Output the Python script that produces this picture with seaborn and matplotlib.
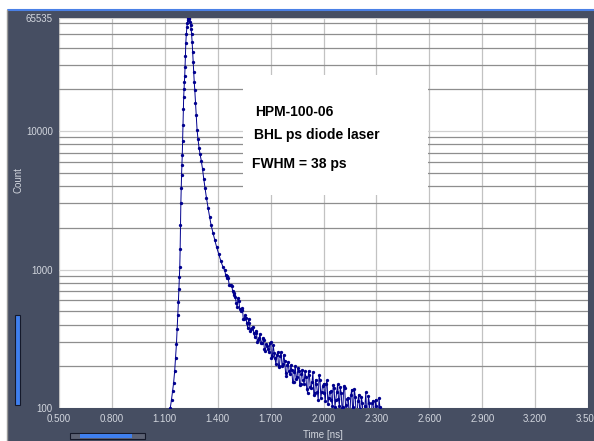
import matplotlib
matplotlib.use("Agg")
import matplotlib.pyplot as plt
from matplotlib.patches import Rectangle
from matplotlib.lines import Line2D
from matplotlib.ticker import LogLocator, NullFormatter
import seaborn as sns
import pandas as pd

# rise, peak and early decay of the IRF
rise_time = [1.120, 1.126, 1.132, 1.138, 1.144, 1.150, 1.156, 1.161, 1.166, 1.170,
             1.174, 1.177, 1.180, 1.183, 1.185, 1.187, 1.189, 1.191, 1.193, 1.195,
             1.197, 1.199, 1.201, 1.203, 1.205, 1.207, 1.209, 1.211, 1.213, 1.215,
             1.217, 1.219, 1.222, 1.225, 1.228, 1.231, 1.234, 1.237]
rise_count = [80, 90, 100, 115, 132, 152, 185, 230, 290, 370,
              470, 580, 720, 880, 1050, 1400, 2100, 3000, 3900, 4800,
              5700, 6700, 8500, 11000, 14500, 17500, 20000, 22500, 25000, 29000,
              35000, 43000, 50000, 56000, 60500, 63500, 65200, 65535]

decay_time = [1.240, 1.243, 1.246, 1.249, 1.252, 1.255, 1.258, 1.261, 1.264, 1.267,
              1.270, 1.274, 1.278, 1.283, 1.288, 1.294, 1.300, 1.307, 1.314, 1.321,
              1.328, 1.336, 1.345, 1.354, 1.363, 1.373, 1.383, 1.394, 1.405, 1.417,
              1.430]
decay_count = [64500, 61000, 58000, 55000, 50000, 44000, 37000, 31500, 26500, 22500,
               19800, 16000, 13000, 10200, 8800, 7600, 6800, 6100, 5300, 4500,
               3900, 3300, 2800, 2400, 2080, 1840, 1640, 1450, 1300, 1160,
               1040]

# noisy tail, channels on the 10 ps grid
tail_time_a = [1.44, 1.45, 1.46, 1.47, 1.48, 1.49, 1.50, 1.51, 1.52, 1.53,
               1.54, 1.55, 1.56, 1.57, 1.58, 1.59, 1.60, 1.61, 1.62, 1.63,
               1.64, 1.65, 1.66, 1.67, 1.68, 1.69, 1.70, 1.71, 1.72, 1.73,
               1.74, 1.75, 1.76, 1.77, 1.78, 1.79, 1.80, 1.81, 1.82, 1.83,
               1.84, 1.85, 1.86, 1.87, 1.88, 1.89, 1.90, 1.91, 1.92, 1.93,
               1.94, 1.95, 1.96, 1.97, 1.98, 1.99, 2.00, 2.01, 2.02, 2.03,
               2.04, 2.05, 2.06, 2.07, 2.08, 2.09, 2.10, 2.11, 2.12, 2.13,
               2.14, 2.15, 2.16, 2.17, 2.18, 2.19, 2.20, 2.21, 2.22, 2.23,
               2.24, 2.25, 2.26, 2.27, 2.28, 2.29, 2.30, 2.31, 2.32, 2.33,
               2.34]
tail_count_a = [984, 869, 863, 774, 760, 658, 632, 536, 589, 505,
                530, 439, 445, 379, 409, 370, 386, 324, 347, 311,
                343, 297, 310, 259, 282, 254, 298, 238, 251, 207,
                252, 202, 254, 207, 217, 171, 215, 175, 187, 153,
                201, 168, 185, 149, 189, 148, 167, 128, 172, 140,
                181, 128, 149, 115, 160, 131, 150, 112, 158, 119,
                132, 104, 140, 115, 148, 103, 129, 102, 139, 87,
                119, 94, 136, 102, 121, 84, 125, 94, 108, 83,
                130, 92, 109, 76, 113, 85, 103, 79, 101, 74,
                87]

# noisy tail, channels between those
tail_time_b = [1.445, 1.455, 1.465, 1.475, 1.485, 1.495, 1.505, 1.515, 1.525, 1.535,
               1.545, 1.555, 1.565, 1.575, 1.585, 1.595, 1.605, 1.615, 1.625, 1.635,
               1.645, 1.655, 1.665, 1.675, 1.685, 1.695, 1.705, 1.715, 1.725, 1.735,
               1.745, 1.755, 1.765, 1.775, 1.785, 1.795, 1.805, 1.815, 1.825, 1.835,
               1.845, 1.855, 1.865, 1.875, 1.885, 1.895, 1.905, 1.915, 1.925, 1.935,
               1.945, 1.955, 1.965, 1.975, 1.985, 1.995, 2.005, 2.015, 2.025, 2.035,
               2.045, 2.055, 2.065, 2.075, 2.085, 2.095, 2.105, 2.115, 2.125, 2.135,
               2.145, 2.155, 2.165, 2.175, 2.185, 2.195, 2.205, 2.215, 2.225, 2.235,
               2.245, 2.255, 2.265, 2.275, 2.285, 2.295, 2.305, 2.315, 2.325, 2.335]
tail_count_b = [914, 904, 778, 767, 698, 675, 575, 619, 521, 513,
                440, 469, 409, 441, 358, 377, 346, 360, 300, 321,
                294, 321, 265, 290, 267, 293, 231, 285, 229, 240,
                199, 238, 200, 243, 179, 205, 184, 204, 155, 182,
                161, 195, 146, 176, 160, 184, 138, 185, 142, 155,
                124, 160, 131, 172, 119, 145, 129, 149, 106, 131,
                114, 147, 102, 131, 117, 141, 100, 144, 105, 117,
                90, 124, 98, 138, 89, 113, 99, 120, 79, 104,
                88, 122, 78, 108, 94, 115, 82, 118, 86, 97]

x_ticks = [0.5, 0.8, 1.1, 1.4, 1.7, 2.0, 2.3, 2.6, 2.9, 3.2, 3.5]
y_ticks = [100, 1000, 10000, 65535]
y_tick_labels = ["100", "1000", "10000", "65535"]
notes = ["HPM-100-06", "BHL ps diode laser", "FWHM = 38 ps"]

df = pd.DataFrame({
    "time": rise_time + decay_time + tail_time_a + tail_time_b,
    "count": rise_count + decay_count + tail_count_a + tail_count_b,
}).sort_values("time")

sns.set_theme(style="white")
plt.rcParams["font.family"] = ["Liberation Sans", "DejaVu Sans"]

W, H = 594, 441
panel = "#464e62"
light = "#d2d6de"

fig = plt.figure(figsize=(W / 100, H / 100), dpi=100)
fig.patch.set_facecolor("white")

# window frame bits
fig.add_artist(Rectangle((8 / W, 0), 1 - 8 / W, 1 - 11 / H, transform=fig.transFigure,
                         facecolor=panel, edgecolor="none", zorder=0))
fig.add_artist(Line2D([8 / W, 1], [1 - 10 / H] * 2, transform=fig.transFigure,
                      color="#4a80e6", lw=1.5))
fig.add_artist(Line2D([7 / W] * 2, [0, 1 - 10 / H], transform=fig.transFigure,
                      color="#9a9a9a", lw=1))
fig.add_artist(Rectangle((15 / W, 1 - 405 / H), 5 / W, 90 / H, transform=fig.transFigure,
                         facecolor="#3f7fee", edgecolor="#15192a", lw=0.8))
fig.add_artist(Rectangle((70 / W, 1 - 439 / H), 75 / W, 6 / H, transform=fig.transFigure,
                         facecolor="#5c6274", edgecolor="#15192a", lw=0.8))
fig.add_artist(Rectangle((80 / W, 1 - 438 / H), 52 / W, 4 / H, transform=fig.transFigure,
                         facecolor="#3f7fee", edgecolor="none"))

ax = fig.add_axes([59 / W, 1 - 408 / H, (588 - 59) / W, (408 - 18) / H])
ax.set_facecolor("white")
ax.set_yscale("log")

sns.lineplot(data=df, x="time", y="count", ax=ax, estimator=None, sort=False,
             color="#00008e", linewidth=0.7, marker="o", markersize=2.4,
             markeredgewidth=0, zorder=3)

ax.set_xlim(0.5, 3.5)
ax.set_ylim(100, 65535)
ax.set_xticks(x_ticks)
ax.set_xticklabels([f"{v:.3f}" for v in x_ticks])
ax.set_yticks(y_ticks)
ax.set_yticklabels(y_tick_labels)
ax.yaxis.set_minor_locator(LogLocator(base=10, subs=range(2, 10), numticks=20))
ax.yaxis.set_minor_formatter(NullFormatter())

ax.set_axisbelow(True)
ax.grid(which="minor", axis="y", color="#8e8e8e", lw=0.9)
ax.grid(which="major", axis="y", color="#d0d0d0", lw=0.9)
ax.grid(which="major", axis="x", color="#c2c2c2", lw=0.9)
for s in ax.spines.values():
    s.set_visible(False)
ax.tick_params(which="major", length=3, width=0.8, color=light, labelcolor=light,
               labelsize=7, pad=1.5)
ax.tick_params(which="minor", length=0)
ax.set_xlabel("")
ax.set_ylabel("")

# white note box over the grid
ax.add_patch(Rectangle((0.348, 0.546), 0.35, 0.308, transform=ax.transAxes,
                       facecolor="white", edgecolor="none", zorder=1.5))
ax.text(0.3705, 0.759, notes[0], transform=ax.transAxes, fontsize=10,
        fontweight="bold", color="black", va="center", zorder=4)
ax.text(0.3686, 0.700, notes[1], transform=ax.transAxes, fontsize=10,
        fontweight="bold", color="black", va="center", zorder=4)
ax.text(0.3648, 0.6256, notes[2], transform=ax.transAxes, fontsize=10,
        fontweight="bold", color="black", va="center", zorder=4)

fig.text(18 / W, 1 - 180 / H, "Count", rotation=90, color=light, fontsize=7,
         ha="center", va="center")
fig.text(323 / W, 1 - 435 / H, "Time [ns]", color=light, fontsize=7,
         ha="center", va="center")

fig.savefig("out.png", dpi=100, facecolor=fig.get_facecolor())
